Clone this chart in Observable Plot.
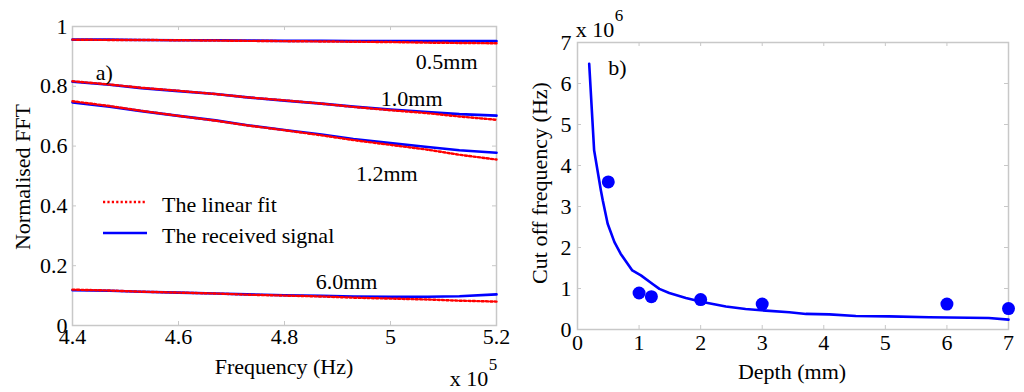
<!DOCTYPE html>
<html><head><meta charset="utf-8">
<script src="https://cdn.jsdelivr.net/npm/d3@7"></script>
<script src="https://cdn.jsdelivr.net/npm/@observablehq/plot@0.6"></script>
<style>
body{margin:0;background:#fff;}
#wrap{position:relative;width:1024px;height:392px;overflow:hidden;font-family:"Liberation Serif","Times New Roman",serif;}
.abs{position:absolute;white-space:nowrap;color:#000;font-size:22px;line-height:22px;}
.sup{font-size:17px;line-height:17px;}
.ctr{transform:translate(-50%,-50%);}
.rot{transform:translate(-50%,-50%) rotate(-90deg);}
.plot{position:absolute;top:0;}
</style></head><body><div id="wrap"></div>
<script>
// ---- Panel a) : normalised FFT vs frequency (x 10^5 Hz)
const freq = [4.40, 4.47, 4.53, 4.60, 4.67, 4.73, 4.80, 4.87, 4.93, 5.00, 5.07, 5.13, 5.20];
const depthsA = ["0.5mm", "1.0mm", "1.2mm", "6.0mm"];
const received = {
  "0.5mm": [0.956, 0.956, 0.955, 0.954, 0.954, 0.953, 0.952, 0.952, 0.951, 0.951, 0.951, 0.951, 0.951],
  "1.0mm": [0.815, 0.805, 0.794, 0.784, 0.774, 0.763, 0.752, 0.742, 0.732, 0.722, 0.714, 0.707, 0.702],
  "1.2mm": [0.746, 0.732, 0.717, 0.701, 0.686, 0.670, 0.654, 0.639, 0.624, 0.610, 0.597, 0.586, 0.578],
  "6.0mm": [0.118, 0.116, 0.113, 0.110, 0.107, 0.104, 0.101, 0.099, 0.097, 0.096, 0.096, 0.098, 0.104]
};
const linearFit = {
  "0.5mm": [0.956, 0.955, 0.955, 0.954, 0.953, 0.952, 0.951, 0.950, 0.949, 0.948, 0.946, 0.945, 0.944],
  "1.0mm": [0.817, 0.806, 0.795, 0.785, 0.774, 0.763, 0.753, 0.742, 0.731, 0.720, 0.710, 0.699, 0.688],
  "1.2mm": [0.750, 0.734, 0.718, 0.701, 0.685, 0.669, 0.653, 0.636, 0.620, 0.604, 0.588, 0.571, 0.555],
  "6.0mm": [0.120, 0.117, 0.113, 0.110, 0.107, 0.103, 0.100, 0.097, 0.093, 0.090, 0.087, 0.083, 0.080]
};
const labelX = [5.106, 5.04, 4.993, 4.917];
const labelY = [0.88, 0.759, 0.508, 0.144];
const xTicksA = [4.4, 4.6, 4.8, 5, 5.2];
const yTicksA = [0, 0.2, 0.4, 0.6, 0.8, 1];

// ---- Panel b) : cut off frequency (x 10^6 Hz) vs depth
const depthPts = [0.5, 1, 1.2, 2, 3, 6, 7];
const cutoffPts = [3.6, 0.89, 0.8, 0.73, 0.62, 0.62, 0.51];
const depthCurve = [0.19, 0.27, 0.38, 0.41, 0.49, 0.60, 0.70, 0.89, 1.03, 1.22, 1.33, 1.49, 1.76, 2.03, 2.41, 2.73, 3.06, 3.44, 3.71, 4.09, 4.52, 5.06, 5.71, 6.68, 7.0];
const cutoffCurve = [6.48, 4.37, 3.39, 3.15, 2.58, 2.13, 1.85, 1.44, 1.32, 1.11, 0.99, 0.89, 0.77, 0.67, 0.56, 0.50, 0.46, 0.42, 0.38, 0.37, 0.33, 0.32, 0.30, 0.28, 0.24];
const xTicksB = [0, 1, 2, 3, 4, 5, 6, 7];
const yTicksB = [0, 1, 2, 3, 4, 5, 6, 7];

const FONT = '"Liberation Serif","Times New Roman",serif';
const GRAY = "#c8c8c8";
const BLUE = "#0000ff";
const RED = "#ff0000";
const wrap = document.getElementById("wrap");

function frameTicks(xt, yt, fw, fh) {
  return [
    Plot.tickX(xt, {x: d => d, insetTop: fh - 4, stroke: GRAY, strokeWidth: 1}),
    Plot.tickX(xt, {x: d => d, insetBottom: fh - 4, stroke: GRAY, strokeWidth: 1}),
    Plot.tickY(yt, {y: d => d, insetRight: fw - 4, stroke: GRAY, strokeWidth: 1}),
    Plot.tickY(yt, {y: d => d, insetLeft: fw - 4, stroke: GRAY, strokeWidth: 1}),
    Plot.frame({stroke: GRAY, strokeWidth: 1.5})
  ];
}

// Panel a
const rowsRecv = [], rowsFit = [];
depthsA.forEach(k => freq.forEach((f, i) => {
  rowsRecv.push({f, v: received[k][i], k});
  rowsFit.push({f, v: linearFit[k][i], k});
}));
const labelsA = depthsA.map((t, i) => ({t, x: labelX[i], y: labelY[i]}));
const mA = {l: 72, r: 16, t: 26, b: 67};
const fwA = 512 - mA.l - mA.r, fhA = 392 - mA.t - mA.b;
const plotA = Plot.plot({
  width: 512, height: 392,
  marginLeft: mA.l, marginRight: mA.r, marginTop: mA.t, marginBottom: mA.b,
  style: {fontFamily: FONT, fontSize: "22px", color: "#000", background: "transparent", overflow: "visible"},
  x: {domain: [4.4, 5.2], label: null},
  y: {domain: [0, 1], label: null},
  marks: [
    ...frameTicks(xTicksA, yTicksA, fwA, fhA),
    Plot.axisX(xTicksA, {tickSize: 0, tickPadding: 3, tickFormat: d => String(d), label: null}),
    Plot.axisY(yTicksA, {tickSize: 0, tickPadding: 5, tickFormat: d => String(d), label: null}),
    Plot.line(rowsRecv, {x: "f", y: "v", z: "k", curve: "linear", stroke: BLUE, strokeWidth: 2.6}),
    Plot.line(rowsFit, {x: "f", y: "v", z: "k", curve: "linear", stroke: RED, strokeWidth: 2.4, strokeDasharray: "2.2,2.2"}),
    Plot.text(labelsA, {x: "x", y: "y", text: "t", fontSize: 22, fill: "#000"}),
    Plot.text(["a)"], {x: 4.46, y: 0.846, text: d => d, fontSize: 22, fill: "#000"})
  ]
});
plotA.classList.add("plot");
plotA.style.left = "0px";
wrap.appendChild(plotA);

// Panel b
const curveRows = depthCurve.map((d, i) => ({d, c: cutoffCurve[i]}));
const ptRows = depthPts.map((d, i) => ({d, c: cutoffPts[i]}));
const mB = {l: 65, r: 16, t: 42, b: 63};
const fwB = 512 - mB.l - mB.r, fhB = 392 - mB.t - mB.b;
const plotB = Plot.plot({
  width: 512, height: 392,
  marginLeft: mB.l, marginRight: mB.r, marginTop: mB.t, marginBottom: mB.b,
  style: {fontFamily: FONT, fontSize: "22px", color: "#000", background: "transparent", overflow: "visible"},
  x: {domain: [0, 7], label: null},
  y: {domain: [0, 7], label: null},
  marks: [
    ...frameTicks(xTicksB, yTicksB, fwB, fhB),
    Plot.axisX(xTicksB, {tickSize: 0, tickPadding: 5, tickFormat: d => String(d), label: null}),
    Plot.axisY(yTicksB, {tickSize: 0, tickPadding: 6, tickFormat: d => String(d), label: null}),
    Plot.line(curveRows, {x: "d", y: "c", stroke: BLUE, strokeWidth: 2.6}),
    Plot.dot(ptRows, {x: "d", y: "c", r: 6.5, fill: BLUE, stroke: "none", clip: false}),
    Plot.text(["b)"], {x: 0.65, y: 6.37, text: d => d, fontSize: 22, fill: "#000"})
  ]
});
plotB.classList.add("plot");
plotB.style.left = "512px";
wrap.appendChild(plotB);

// Titles, multipliers, legend (HTML/SVG overlays)
function addText(html, x, y, cls) {
  const d = document.createElement("div");
  d.className = "abs " + cls;
  d.style.left = x + "px"; d.style.top = y + "px";
  d.innerHTML = html;
  wrap.appendChild(d);
}
addText("Frequency (Hz)", 284, 367, "ctr");
addText("Normalised FFT", 23, 177, "rot");
addText("Depth (mm)", 792, 372, "ctr");
addText("Cut off frequency (Hz)", 540, 183, "rot");
addText("x 10", 469, 379, "ctr");
addText("5", 493, 364, "ctr sup");
addText("x 10", 595, 30, "ctr");
addText("6", 619, 15, "ctr sup");

const ns = "http://www.w3.org/2000/svg";
const leg = document.createElementNS(ns, "svg");
leg.setAttribute("width", 512); leg.setAttribute("height", 392);
leg.style.position = "absolute"; leg.style.left = "0px"; leg.style.top = "0px";
const legendItems = [
  {label: "The linear fit", color: RED, dash: "2.2,2.2", y: 202},
  {label: "The received signal", color: BLUE, dash: null, y: 233}
];
legendItems.forEach(it => {
  const ln = document.createElementNS(ns, "line");
  ln.setAttribute("x1", 103); ln.setAttribute("x2", 147);
  ln.setAttribute("y1", it.y); ln.setAttribute("y2", it.y);
  ln.setAttribute("stroke", it.color); ln.setAttribute("stroke-width", 2.5);
  if (it.dash) ln.setAttribute("stroke-dasharray", it.dash);
  leg.appendChild(ln);
  const tx = document.createElementNS(ns, "text");
  tx.setAttribute("x", 162); tx.setAttribute("y", it.y + 2);
  tx.setAttribute("dy", "0.35em");
  tx.setAttribute("font-family", FONT); tx.setAttribute("font-size", 22);
  tx.textContent = it.label;
  leg.appendChild(tx);
});
wrap.appendChild(leg);
</script></body></html>
